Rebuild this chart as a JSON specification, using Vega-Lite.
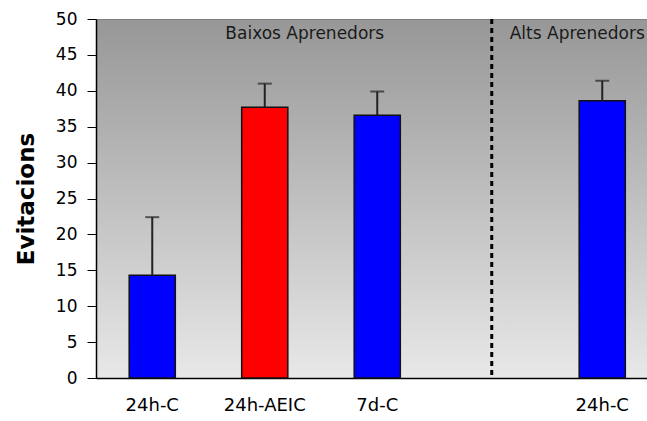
{
  "$schema": "https://vega.github.io/schema/vega-lite/v6.json",
  "width": 562.5,
  "height": 359,
  "autosize": {"type": "none"},
  "padding": {"left": 96, "top": 19, "right": 0, "bottom": 43},
  "background": "white",
  "view": {
    "fill": {
      "gradient": "linear", "x1": 0, "y1": 0, "x2": 0, "y2": 1,
      "stops": [{"offset": 0, "color": "#979797"}, {"offset": 1, "color": "#e8e8e8"}]
    },
    "stroke": "#808080",
    "strokeWidth": 1
  },
  "config": {
    "font": "DejaVu Sans",
    "axis": {"grid": false, "domainColor": "#000000", "domainWidth": 1.5, "tickColor": "#000000", "labelColor": "#000000", "labelFont": "DejaVu Sans"}
  },
  "datasets": {
    "bars": [
      {"id": "24h-C|B", "grup": "C", "evitacions": 14.3, "superior": 22.4},
      {"id": "24h-AEIC|B", "grup": "AEIC", "evitacions": 37.7, "superior": 41.0},
      {"id": "7d-C|B", "grup": "C", "evitacions": 36.6, "superior": 39.9},
      {"id": "24h-C|A", "grup": "C", "evitacions": 38.6, "superior": 41.4}
    ],
    "divider": [{"id": "|gap"}],
    "noteLow": [{"id": "24h-AEIC|B", "y": 47.2, "text": "Baixos Aprenedors"}],
    "noteHigh": [{"id": "24h-C|A", "y": 47.2, "text": "Alts Aprenedors"}]
  },
  "encoding": {
    "x": {
      "field": "id", "type": "nominal",
      "scale": {"domain": ["24h-C|B", "24h-AEIC|B", "7d-C|B", "|gap", "24h-C|A"], "paddingInner": 0.59, "paddingOuter": 0.295},
      "axis": {"title": null, "labelAngle": 0, "ticks": false, "labelPadding": 18, "labelFontSize": 18, "labelExpr": "split(datum.value, '|')[0]"}
    }
  },
  "layer": [
    {
      "data": {"name": "bars"},
      "mark": {"type": "bar", "stroke": "#111111", "strokeWidth": 1.5},
      "encoding": {
        "y": {
          "field": "evitacions", "type": "quantitative",
          "scale": {"domain": [0, 50], "nice": false, "zero": true},
          "axis": {"title": "Evitacions", "titleFont": "DejaVu Sans", "titleFontWeight": "bold", "titleFontSize": 23, "titleColor": "#000000", "titlePadding": 17, "tickCount": 10, "tickMinStep": 5, "tickSize": 9, "labelPadding": 10, "labelFontSize": 17, "labelOverlap": false, "labelSeparation": 0}
        },
        "color": {"field": "grup", "type": "nominal", "scale": {"domain": ["C", "AEIC"], "range": ["#0000ff", "#ff0000"]}, "legend": null}
      }
    },
    {
      "data": {"name": "bars"},
      "mark": {"type": "rule", "color": "#222222", "strokeWidth": 2},
      "encoding": {
        "y": {"field": "evitacions", "type": "quantitative"},
        "y2": {"field": "superior"}
      }
    },
    {
      "data": {"name": "bars"},
      "mark": {"type": "tick", "color": "#222222", "size": 14, "thickness": 2},
      "encoding": {
        "y": {"field": "superior", "type": "quantitative"}
      }
    },
    {
      "data": {"name": "divider"},
      "mark": {"type": "rule", "color": "#000000", "strokeWidth": 3, "strokeDash": [5, 4], "xOffset": 2},
      "encoding": {}
    },
    {
      "data": {"name": "noteLow"},
      "mark": {"type": "text", "fontSize": 17, "color": "#1a1a1a", "align": "center", "baseline": "alphabetic", "dx": 40},
      "encoding": {
        "y": {"field": "y", "type": "quantitative"},
        "text": {"field": "text"}
      }
    },
    {
      "data": {"name": "noteHigh"},
      "mark": {"type": "text", "fontSize": 17, "color": "#1a1a1a", "align": "center", "baseline": "alphabetic", "dx": -25},
      "encoding": {
        "y": {"field": "y", "type": "quantitative"},
        "text": {"field": "text"}
      }
    }
  ]
}
